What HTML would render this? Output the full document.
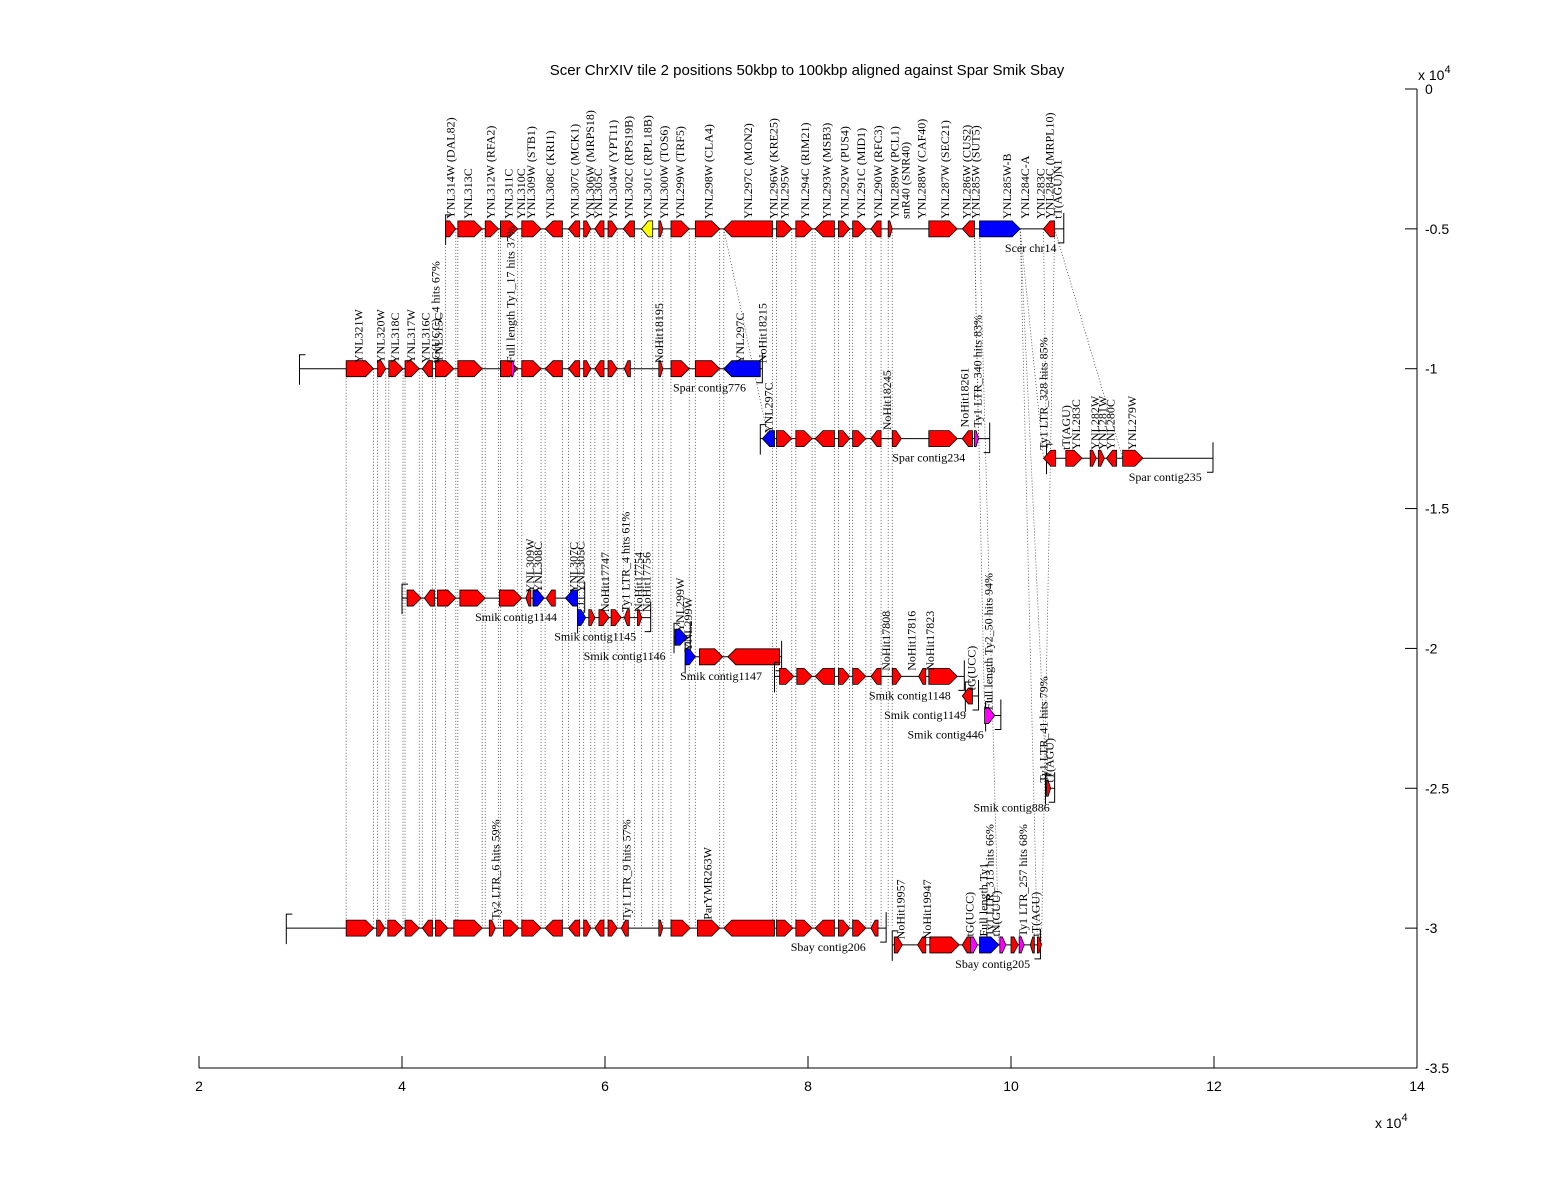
<!DOCTYPE html>
<html><head><meta charset="utf-8">
<style>
body{margin:0;background:#fff;}
svg{display:block;font-family:"Liberation Sans",sans-serif;}
.lab{font-family:"Liberation Serif",serif;font-size:12px;fill:#000;}
.tk{font-size:14px;fill:#000;}
</style></head>
<body>
<svg id="chart" width="1568" height="1200" viewBox="0 0 1568 1200">
<rect width="1568" height="1200" fill="#fff"/>
<text x="807" y="75" text-anchor="middle" font-size="15">Scer ChrXIV tile 2 positions 50kbp to 100kbp aligned against Spar Smik Sbay</text>
<g id="links"></g>
<g id="tracks"></g>
<g id="axes"></g>
</svg>
<script>
// x ticks (units of 1e4) and y ticks
const xTicks=[2,4,6,8,10,12,14];
const yTicks=[0,-0.5,-1,-1.5,-2,-2.5,-3,-3.5];
// tracks: name, y level, line extent (kbp)
const trackNames=["Scer chr14","Spar contig776","Spar contig234","Spar contig235","Smik contig1144","Smik contig1145","Smik contig1146","Smik contig1147","Smik contig1148","Smik contig1149","Smik contig446","Smik contig886","Sbay contig206","Sbay contig205"];
const trackY=[-0.5,-1.0,-1.25,-1.32,-1.82,-1.89,-1.96,-2.03,-2.10,-2.17,-2.24,-2.5,-3.0,-3.06];
const trackStart=[44.3,29.9,75.3,103.5,40.0,57.3,66.8,67.9,76.7,95.5,97.5,103.4,28.6,88.3];
const trackEnd=[105.2,75.5,97.9,119.9,58.0,64.5,68.4,77.4,95.4,96.8,99.0,104.3,87.7,102.9];
const trackLabelX=[99.4,66.7,88.3,111.6,47.2,55.0,57.9,67.4,86.0,87.5,89.8,96.3,78.3,94.5];
// genes per track: [start,end,dir,color]
const genes=[
 [[44.3,45.3,1,'r'],[45.5,47.9,1,'r'],[48.2,49.5,1,'r'],[49.7,51.4,1,'r'],[51.8,53.7,1,'r'],[54.1,55.8,-1,'r'],[56.4,57.5,-1,'r'],[57.9,58.6,1,'r'],[59.0,59.9,-1,'r'],[60.3,61.2,1,'r'],[61.8,62.9,-1,'r'],[63.6,64.7,-1,'y'],[65.3,65.7,1,'r'],[66.5,68.3,1,'r'],[68.9,71.3,1,'r'],[71.7,76.5,-1,'r'],[76.9,78.4,1,'r'],[78.8,80.4,1,'r'],[80.7,82.6,-1,'r'],[83.0,84.1,1,'r'],[84.4,85.7,1,'r'],[86.2,87.2,-1,'r'],[87.9,88.3,1,'r'],[91.9,94.7,1,'r'],[95.2,96.4,-1,'r'],[96.9,100.9,1,'b'],[103.2,104.3,-1,'r']],
 [[34.5,37.2,1,'r'],[37.6,38.4,1,'r'],[38.7,40.1,1,'r'],[40.3,41.7,1,'r'],[42.0,43.0,-1,'r'],[43.3,45.1,1,'r'],[45.5,47.9,1,'r'],[49.7,51.4,1,'r'],[50.8,51.1,1,'m'],[51.8,53.7,1,'r'],[54.1,55.8,-1,'r'],[56.4,57.5,-1,'r'],[57.9,58.6,1,'r'],[59.0,59.9,-1,'r'],[60.3,61.2,1,'r'],[61.9,62.5,-1,'r'],[65.3,65.7,1,'r'],[66.5,68.3,1,'r'],[68.9,71.3,1,'r'],[71.7,75.3,-1,'b']],
 [[75.5,76.7,-1,'b'],[76.9,78.4,1,'r'],[78.8,80.4,1,'r'],[80.7,82.6,-1,'r'],[83.0,84.1,1,'r'],[84.4,85.7,1,'r'],[86.2,87.2,-1,'r'],[88.3,89.2,1,'r'],[91.9,94.7,1,'r'],[95.2,96.2,-1,'r'],[96.4,96.8,1,'m']],
 [[103.2,104.4,-1,'r'],[105.4,107.0,1,'r'],[107.8,108.4,1,'r'],[108.6,109.2,1,'r'],[109.4,110.4,-1,'r'],[111.0,113.0,1,'r']],
 [[40.5,41.9,1,'r'],[42.2,43.2,-1,'r'],[43.5,45.3,1,'r'],[45.7,48.2,1,'r'],[49.6,51.8,1,'r'],[52.2,52.7,-1,'r'],[52.9,54.0,1,'b'],[54.2,55.1,-1,'r'],[56.1,57.3,-1,'b']],
 [[57.3,58.1,1,'b'],[58.4,59.0,1,'r'],[59.4,60.4,1,'r'],[60.6,61.6,1,'r'],[61.9,62.4,-1,'r'],[63.2,63.6,1,'r']],
 [[66.9,68.1,1,'b']],
 [[67.9,68.9,1,'b'],[69.3,71.6,1,'r'],[72.1,77.2,-1,'r']],
 [[77.2,78.6,1,'r'],[78.9,80.4,1,'r'],[80.7,82.6,-1,'r'],[83.0,84.1,1,'r'],[84.4,85.7,1,'r'],[86.2,87.2,-1,'r'],[88.3,89.2,1,'r'],[90.9,91.6,-1,'r'],[91.9,94.7,1,'r']],
 [[95.2,96.2,-1,'r']],
 [[97.4,98.4,1,'m']],
 [[103.5,103.9,1,'r']],
 [[34.5,37.2,1,'r'],[37.5,38.3,1,'r'],[38.6,40.1,1,'r'],[40.3,41.7,1,'r'],[42.0,43.0,-1,'r'],[43.3,44.5,1,'r'],[45.1,47.9,1,'r'],[48.6,49.2,1,'r'],[50.0,51.5,1,'r'],[51.8,53.7,1,'r'],[54.1,55.8,-1,'r'],[56.4,57.5,-1,'r'],[57.9,58.6,1,'r'],[59.0,59.9,-1,'r'],[60.3,61.2,1,'r'],[61.6,62.3,-1,'r'],[65.3,65.7,1,'r'],[66.5,68.4,1,'r'],[69.1,71.3,1,'r'],[71.7,76.7,-1,'r'],[76.9,78.5,1,'r'],[78.8,80.4,1,'r'],[80.7,82.6,-1,'r'],[83.0,84.1,1,'r'],[84.4,85.7,1,'r'],[86.2,86.9,-1,'r']],
 [[88.5,89.3,1,'r'],[90.8,91.6,-1,'r'],[92.0,94.9,1,'r'],[95.2,96.0,-1,'r'],[96.0,96.7,1,'m'],[96.9,98.8,1,'b'],[98.9,99.5,1,'m'],[100.0,100.7,1,'r'],[100.8,101.3,1,'m'],[101.9,102.3,-1,'r'],[102.6,103.0,1,'r']]
];
// labels: text, x (kbp)
const labelTexts=[["YNL314W (DAL82)",44.8],["YNL313C",46.5],["YNL312W (RFA2)",48.7],["YNL311C",50.5],["YNL310C",51.7],["YNL309W (STB1)",52.7],["YNL308C (KRI1)",54.6],["YNL307C (MCK1)",57.0],["YNL306W (MRPS18)",58.5],["YNL305C",59.3],["YNL304W (YPT11)",60.8],["YNL302C (RPS19B)",62.3],["YNL301C (RPL18B)",64.2],["YNL300W (TOS6)",65.8],["YNL299W (TRF5)",67.4],["YNL298W (CLA4)",70.2],["YNL297C (MON2)",74.1],["YNL296W (KRE25)",76.6],["YNL295W",77.7],["YNL294C (RIM21)",79.7],["YNL293W (MSB3)",81.8],["YNL292W (PUS4)",83.6],["YNL291C (MID1)",85.2],["YNL290W (RFC3)",86.9],["YNL289W (PCL1)",88.5],["snR40 (SNR40)",89.6],["YNL288W (CAF40)",91.2],["YNL287W (SEC21)",93.5],["YNL286W (CUS2)",95.6],["YNL285W (SUT5)",96.5],["YNL285W-B",99.6],["YNL284C-A",101.4],["YNL283C",102.9],["YNL284C (MRPL10)",103.8],["tT(AGU)N1",104.6]];
const otherLabels=[["YNL321W",35.7,-0.98],["YNL320W",37.9,-0.98],["YNL318C",39.3,-0.98],["YNL317W",40.9,-0.98],["YNL316C",42.3,-0.98],["YNL315C",43.6,-0.98],["tG(UCC)_4 hits 67%",43.3,-0.98],["Full length Ty1_17 hits 37%",50.7,-0.98],["NoHit18195",65.3,-0.98],["YNL297C",73.3,-0.98],["NoHit18215",75.5,-0.98],
["YNL297C",76.1,-1.23],["NoHit18245",87.8,-1.22],["NoHit18261",95.4,-1.21],["Ty1 LTR_340 hits 83%",96.7,-1.21],
["Ty1 LTR_328 hits 85%",103.2,-1.29],["tT(AGU)",105.4,-1.29],["YNL283C",106.4,-1.29],["YNL282W",108.3,-1.29],["YNL281W",109.0,-1.29],["YNL280C",109.8,-1.29],["YNL279W",111.9,-1.29],
["YNL309W",52.6,-1.80],["YNL308C",53.4,-1.80],["YNL307C",56.9,-1.80],["YNL305C",57.6,-1.80],["NoHit17747",60.0,-1.87],["Ty1 LTR_4 hits 61%",62.0,-1.87],["NoHit17754",63.3,-1.87],["NoHit17756",64.1,-1.87],["YNL299W",67.4,-1.94],["YNL299W",68.2,-2.01],
["NoHit17808",87.7,-2.08],["NoHit17816",90.2,-2.08],["NoHit17823",92.0,-2.08],["tG(UCC)",96.1,-2.15],["Full length Ty2_50 hits 94%",97.8,-2.22],["Ty1 LTR_41 hits 79%",103.2,-2.48],["tT(AGU)",103.8,-2.48],
["Ty2 LTR_6 hits 59%",49.2,-2.97],["Ty1 LTR_9 hits 57%",62.1,-2.97],["ParYMR263W",70.1,-2.97],["NoHit19957",89.1,-3.04],["NoHit19947",91.7,-3.04],["tG(UCC)",95.9,-3.03],["Full length Ty1",97.3,-3.03],["Ty1 LTR_313 hits 66%",97.9,-3.03],["tN(GUU)",98.5,-3.03],["Ty1 LTR_257 hits 68%",101.2,-3.03],["tT(AGU)",102.4,-3.03]];

const NS="http://www.w3.org/2000/svg";
function X(kbp){return 199+(kbp-20)*10.15;}
function Y(v){return 89-v*279.71;}
const COL={r:'#ff0000',b:'#0000ff',y:'#ffff00',m:'#ff00ff'};
function mk(tag,attrs,parent){const e=document.createElementNS(NS,tag);for(const k in attrs)e.setAttribute(k,attrs[k]);parent.appendChild(e);return e;}
const axes=document.getElementById('axes'),tracks=document.getElementById('tracks'),links=document.getElementById('links');

let l=mk('line',{x1:X(20),x2:X(140),y1:1068,y2:1068,stroke:'#000'},axes);


xTicks.forEach(t=>{
 const x=X(t*10);
 let tk=mk('line',{x1:x,x2:x,y1:1068,y2:1056,stroke:'#000'},axes);
 
 
 let tx=mk('text',{x:x,y:1091,'text-anchor':'middle',class:'tk'},axes);tx.textContent=t;
 
 
});
l=mk('line',{x1:1417,x2:1417,y1:Y(0),y2:Y(-3.5),stroke:'#000'},axes);


yTicks.forEach(t=>{
 const y=Y(t);
 let tk=mk('line',{x1:1405,x2:1417,y1:y,y2:y,stroke:'#000'},axes);
 
 
 let tx=mk('text',{x:1425,y:y+5,class:'tk'},axes);tx.textContent=t;
 
 
});
let e1=mk('text',{x:1375,y:1128,class:'tk'},axes);e1.innerHTML='x 10<tspan dy="-7" font-size="11">4</tspan>';


let e2=mk('text',{x:1418,y:80,class:'tk'},axes);e2.innerHTML='x 10<tspan dy="-7" font-size="11">4</tspan>';



genes[0].forEach(g=>{
 [g[0],g[1]].forEach(p=>{
  if(p>88.5) return;
  const lowY = Y(-3.0);
  let d=mk('line',{x1:X(p),x2:X(p),y1:Y(-0.5),y2:lowY,stroke:'#444','stroke-width':0.8,'stroke-dasharray':'1,2'},links);
  
  
 });
});
genes[1].forEach(g=>{
 [g[0],g[1]].forEach(p=>{ if(p<44.3){
  let d=mk('line',{x1:X(p),x2:X(p),y1:Y(-1),y2:Y(-3.0),stroke:'#444','stroke-width':0.8,'stroke-dasharray':'1,2'},links);
  
  }});
});
[[96.4,96.8,-1.25],[100.9,103.2,-1.32],[103.2,103.5,-1.32],[104.3,111.0,-1.32],[100.9,103.5,-2.5],[96.4,97.4,-2.24],[100.9,102.6,-3.06],[104.3,103.0,-3.06],[71.7,76.1,-1.25],[96.9,98.8,-3.06]].forEach(s=>{
 let d=mk('line',{x1:X(s[0]),x2:X(s[1]),y1:Y(-0.5),y2:Y(s[2]),stroke:'#444','stroke-width':0.8,'stroke-dasharray':'1,2'},links);
 
 
});

trackNames.forEach((name,i)=>{
 const y=Y(trackY[i]);
 const g=mk('g',{},tracks);
 
 
 mk('line',{x1:X(trackStart[i]),x2:X(trackEnd[i]),y1:y,y2:y,stroke:'#000'},g);
 mk('polyline',{points:`${X(trackStart[i])+6},${y-14} ${X(trackStart[i])},${y-14} ${X(trackStart[i])},${y+16}`,fill:'none',stroke:'#000'},g);
 mk('polyline',{points:`${X(trackEnd[i])-6},${y+14} ${X(trackEnd[i])},${y+14} ${X(trackEnd[i])},${y-16}`,fill:'none',stroke:'#000'},g);
 genes[i].forEach(ge=>{
  const a=X(ge[0]),b=X(ge[1]),h=8,w=b-a,hd=Math.min(8,w*0.6);
  let pts;
  if(ge[2]>0) pts=`${a},${y-h} ${b-hd},${y-h} ${b},${y} ${b-hd},${y+h} ${a},${y+h}`;
  else pts=`${b},${y-h} ${a+hd},${y-h} ${a},${y} ${a+hd},${y+h} ${b},${y+h}`;
  const p=mk('polygon',{points:pts,fill:COL[ge[3]],stroke:'#000','stroke-width':0.8},g);
  
  
 });
 const t=mk('text',{x:X(trackLabelX[i]),y:y+23,class:'lab'},g);t.textContent=name;
 
 
});
labelTexts.forEach(lb=>{
 const t=mk('text',{class:'lab',transform:`translate(${X(lb[1])+4},${Y(-0.5)-10}) rotate(-90)`},tracks);t.textContent=lb[0];
 
 
});
otherLabels.forEach(lb=>{
 const t=mk('text',{class:'lab',transform:`translate(${X(lb[1])+4},${Y(lb[2])}) rotate(-90)`},tracks);t.textContent=lb[0];
 
 
});
</script>
</body></html>
